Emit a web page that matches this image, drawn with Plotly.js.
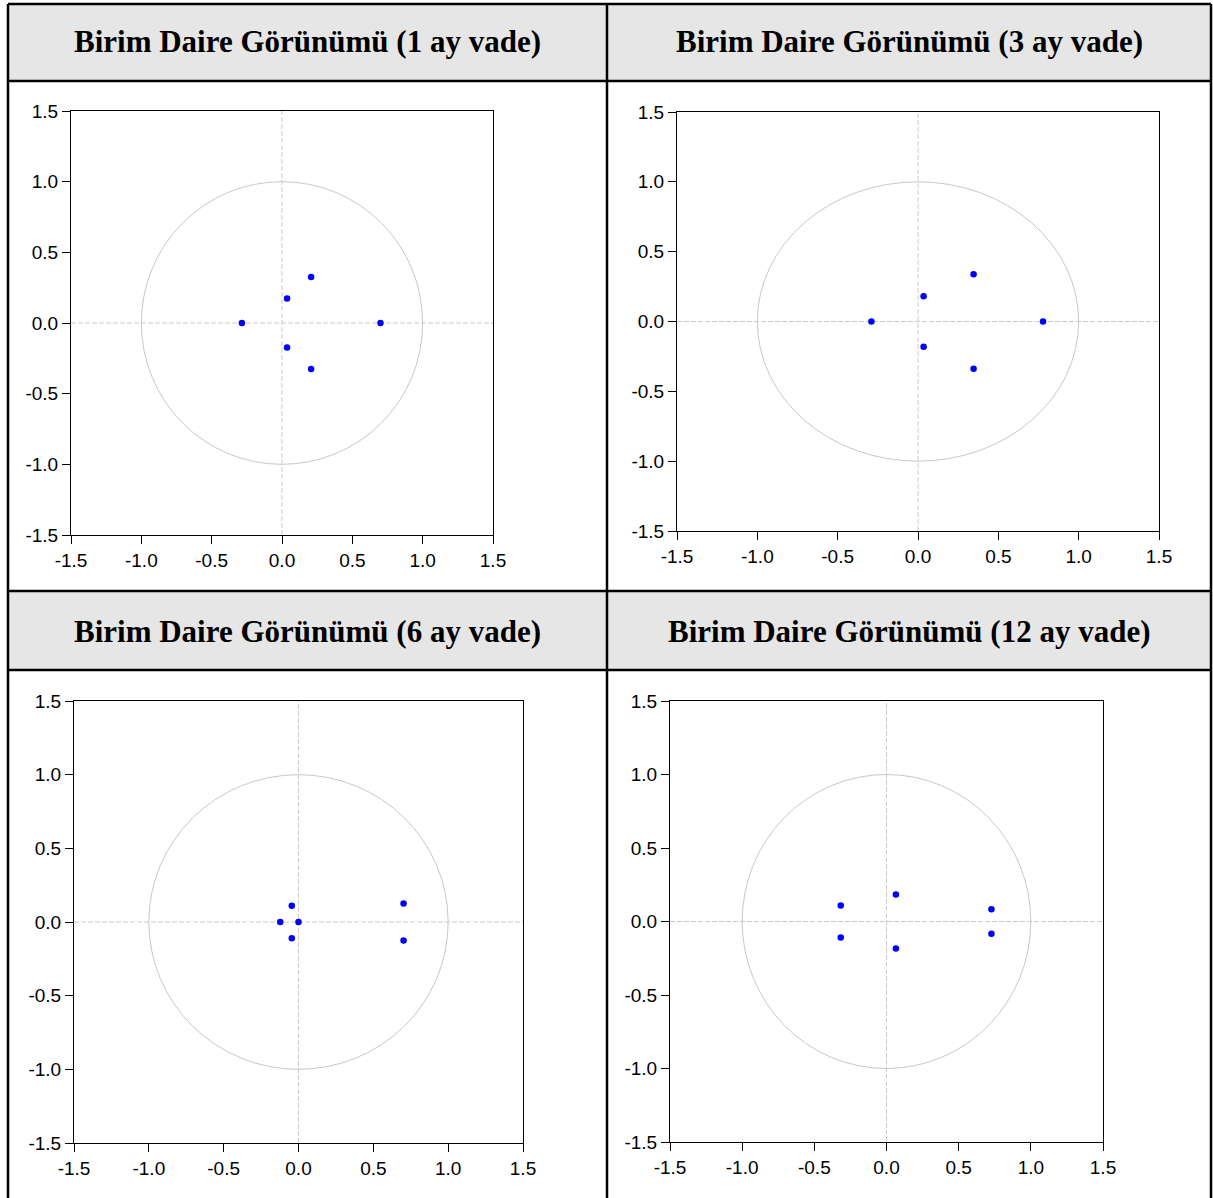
<!DOCTYPE html>
<html>
<head>
<meta charset="utf-8">
<script src="https://cdn.plot.ly/plotly-3.0.1.min.js"></script>
<style>
html,body{margin:0;padding:0;background:#ffffff;}
#chart{width:1213px;height:1198px;}
</style>
</head>
<body>
<div id="chart"></div>
<script>
// ---- data ----
const panelTitles = [
  'Birim Daire Görünümü (1 ay vade)',
  'Birim Daire Görünümü (3 ay vade)',
  'Birim Daire Görünümü (6 ay vade)',
  'Birim Daire Görünümü (12 ay vade)'
];
// inverse roots (real, imaginary) per horizon
const re1 = [-0.285, 0.700, 0.036, 0.036, 0.207, 0.207];
const im1 = [0.000, 0.000, 0.173, -0.173, 0.325, -0.325];
const re3 = [-0.290, 0.778, 0.035, 0.035, 0.346, 0.346];
const im3 = [0.000, 0.000, 0.181, -0.181, 0.339, -0.339];
const re6 = [-0.122, 0.000, -0.045, -0.045, 0.702, 0.702];
const im6 = [0.000, 0.000, 0.110, -0.110, 0.126, -0.126];
const re12 = [-0.317, -0.317, 0.065, 0.065, 0.727, 0.727];
const im12 = [0.108, -0.108, 0.183, -0.183, 0.083, -0.083];
const tickVals = [-1.5, -1.0, -0.5, 0.0, 0.5, 1.0, 1.5];
const tickText = ['-1.5', '-1.0', '-0.5', '0.0', '0.5', '1.0', '1.5'];

// ---- layout geometry (pixels in the 1213x1198 page) ----
const W = 1213, H = 1198;
const fx = v => v / W;
const fy = v => 1 - v / H;

const frames = [
  {l: 71,  r: 493,  t: 111, b: 535},
  {l: 677, r: 1159, t: 112, b: 531},
  {l: 74,  r: 523,  t: 701, b: 1143},
  {l: 670, r: 1103, t: 701, b: 1142}
];
const series = [[re1, im1], [re3, im3], [re6, im6], [re12, im12]];

const data = [];
const layout = {
  width: W, height: H,
  margin: {l: 0, r: 0, t: 0, b: 0, pad: 0},
  paper_bgcolor: '#ffffff',
  plot_bgcolor: '#ffffff',
  showlegend: false,
  shapes: [],
  annotations: []
};

frames.forEach((f, i) => {
  const n = i === 0 ? '' : String(i + 1);
  const xa = 'xaxis' + n, ya = 'yaxis' + n;
  const xr = 'x' + n, yr = 'y' + n;
  const common = {
    range: [-1.5, 1.5],
    tickmode: 'array',
    tickvals: tickVals,
    ticktext: tickText,
    ticks: 'outside',
    ticklen: 8,
    tickwidth: 1,
    tickcolor: '#000000',
    showline: true,
    linecolor: '#000000',
    linewidth: 1,
    mirror: true,
    showgrid: false,
    zeroline: false,
    fixedrange: true,
    tickfont: {family: 'Liberation Sans, Arial, sans-serif', size: 19, color: '#000000'}
  };
  layout[xa] = Object.assign({}, common, {domain: [fx(f.l), fx(f.r)], anchor: yr});
  layout[ya] = Object.assign({}, common, {domain: [fy(f.b), fy(f.t)], anchor: xr});

  // unit circle
  layout.shapes.push({type: 'circle', xref: xr, yref: yr, x0: -1, x1: 1, y0: -1, y1: 1,
    line: {color: '#c8c8c8', width: 1}, layer: 'below'});
  // dashed axes through the origin
  layout.shapes.push({type: 'line', xref: xr, yref: yr, x0: -1.5, x1: 1.5, y0: 0, y1: 0,
    line: {color: '#cccccc', width: 1, dash: '5px,2px'}, layer: 'below'});
  layout.shapes.push({type: 'line', xref: xr, yref: yr, x0: 0, x1: 0, y0: -1.5, y1: 1.5,
    line: {color: '#cccccc', width: 1, dash: '5px,2px'}, layer: 'below'});

  data.push({
    type: 'scatter', mode: 'markers',
    x: series[i][0], y: series[i][1],
    xaxis: xr, yaxis: yr,
    marker: {color: '#0000ff', size: 6.5},
    hoverinfo: 'x+y'
  });
});

// ---- table: header shading, borders, header texts ----
const tblL = 8, tblR = 1211, tblT = 4, tblB = 1210, midX = 607;
const hdr = [[4, 81], [591, 670]];
hdr.forEach(h => {
  layout.shapes.push({type: 'rect', xref: 'paper', yref: 'paper',
    x0: fx(tblL), x1: fx(tblR), y0: fy(h[1]), y1: fy(h[0]),
    fillcolor: '#e6e6e6', line: {width: 0}, layer: 'below'});
});
const bw = 2.5, bc = '#000000';
const hLines = [4, 81, 591, 670];
hLines.forEach(y => {
  layout.shapes.push({type: 'line', xref: 'paper', yref: 'paper',
    x0: fx(tblL), x1: fx(tblR), y0: fy(y), y1: fy(y), line: {color: bc, width: bw}});
});
[tblL, midX, tblR].forEach(x => {
  layout.shapes.push({type: 'line', xref: 'paper', yref: 'paper',
    x0: fx(x), x1: fx(x), y0: fy(tblT), y1: fy(tblB), line: {color: bc, width: bw}});
});

const titlePos = [
  {x: (tblL + midX) / 2, y: 42},
  {x: (midX + tblR) / 2, y: 42},
  {x: (tblL + midX) / 2, y: 631},
  {x: (midX + tblR) / 2, y: 631}
];
panelTitles.forEach((t, i) => {
  layout.annotations.push({
    xref: 'paper', yref: 'paper',
    x: fx(titlePos[i].x), y: fy(titlePos[i].y),
    xanchor: 'center', yanchor: 'middle',
    text: '<b>' + t + '</b>',
    showarrow: false,
    font: {family: 'Liberation Serif, Times New Roman, serif', size: 31, color: '#000000'}
  });
});

Plotly.newPlot('chart', data, layout, {staticPlot: true, displayModeBar: false});
</script>
</body>
</html>
